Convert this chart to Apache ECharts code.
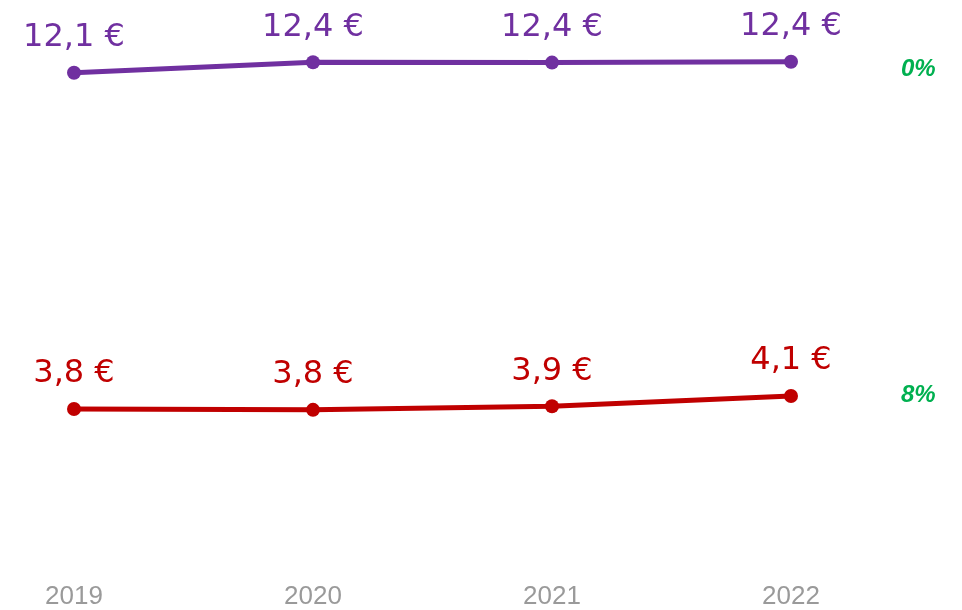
<!DOCTYPE html>
<html>
<head>
<meta charset="utf-8">
<script src="https://cdn.jsdelivr.net/npm/echarts@6/dist/echarts.min.js"></script>
<style>
  html, body { margin: 0; padding: 0; background: #fff; }
  #main { width: 962px; height: 610px; }
</style>
</head>
<body>
<div id="main"></div>
<script>
// données
var years = ['2019', '2020', '2021', '2022'];
var purpleValues = [12.10, 12.36, 12.35, 12.37];
var redValues = [3.80, 3.78, 3.87, 4.12];
var changes = ['0%', '8%'];

var myChart = echarts.init(document.getElementById('main'));

function euro(p) {
    var v = Math.round(p.value * 10 + 1e-6) / 10;
    return v.toFixed(1).replace('.', ',') + ' €';
}

function makeSeries(name, data, color, change, offsetY) {
    return {
        name: name,
        type: 'line',
        data: data,
        symbol: 'circle',
        symbolSize: 14,
        lineStyle: { color: color, width: 5 },
        itemStyle: { color: color },
        label: {
            show: true,
            position: 'top',
            distance: 12,
            formatter: euro,
            color: color,
            fontFamily: 'DejaVu Sans',
            fontSize: 32
        },
        endLabel: {
            show: true,
            formatter: function () { return change; },
            distance: 0,
            offset: [110, offsetY],
            color: '#00b050',
            fontFamily: 'Liberation Sans',
            fontWeight: 'bold',
            fontStyle: 'italic',
            fontSize: 24
        }
    };
}

option = {
    animation: false,
    grid: { left: 74, right: 171, top: 16, bottom: 47 },
    xAxis: {
        type: 'category',
        data: years,
        boundaryGap: false,
        axisLine: { show: false },
        axisTick: { show: false },
        axisLabel: {
            margin: 21,
            color: '#9a9a9a',
            fontFamily: 'Liberation Sans',
            fontSize: 26
        }
    },
    yAxis: {
        type: 'value',
        min: 0,
        max: 13.5,
        show: false,
        splitLine: { show: false }
    },
    series: [
        makeSeries('violet', purpleValues, '#7030a0', changes[0], 8),
        makeSeries('rouge', redValues, '#c00000', changes[1], -1)
    ]
};
myChart.setOption(option);
</script>
</body>
</html>
